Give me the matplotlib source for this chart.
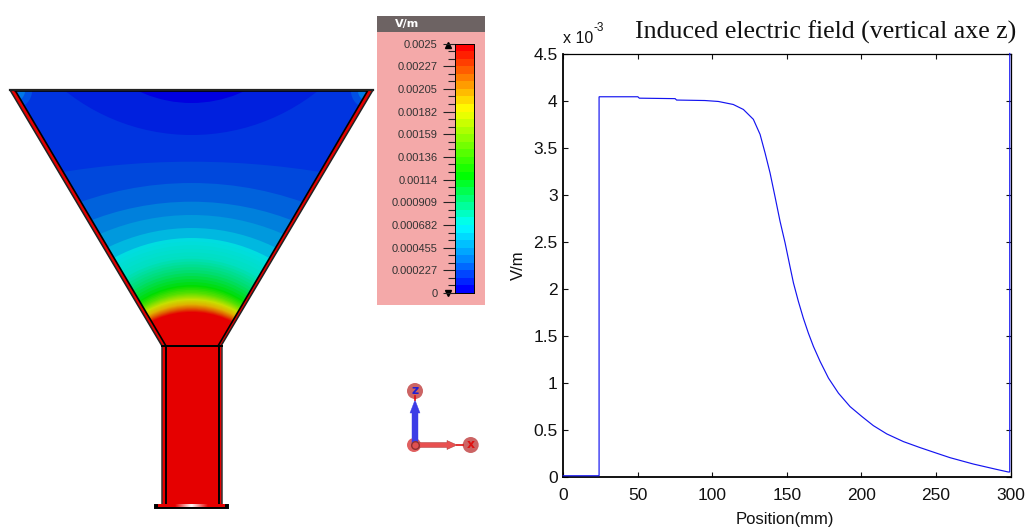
import numpy as np
import matplotlib
matplotlib.use("Agg")
import matplotlib.pyplot as plt
from matplotlib.patches import Polygon, Circle, Rectangle, FancyArrow
from matplotlib.colors import LinearSegmentedColormap, to_rgb

W, H = 1026, 529

# ---- line chart data
position_mm = [0, 24, 24, 50, 51, 75, 76, 95, 104, 114, 120.8, 127.5, 132, 135.4, 138.7, 142, 145.4,
               148.8, 152, 154.4, 157.7, 161, 164.4, 167.8, 172.3, 177.9, 184.6, 192.4, 200.3,
               208, 217, 228.2, 239.4, 250.6, 259.5, 275, 290, 298.5, 299.5, 299.5]
field_mV = [0.01, 0.01, 4.04, 4.04, 4.025, 4.02, 4.005, 4.0, 3.99, 3.958, 3.905, 3.80, 3.64, 3.44, 3.23, 2.98, 2.716,
            2.485, 2.24, 2.06, 1.864, 1.687, 1.527, 1.385, 1.225, 1.048, 0.888, 0.745, 0.64,
            0.543, 0.455, 0.373, 0.309, 0.249, 0.202, 0.135, 0.08, 0.05, 0.05, 4.5]
x_ticks = [0, 50, 100, 150, 200, 250, 300]
y_ticks = [0, 0.5, 1, 1.5, 2, 2.5, 3, 3.5, 4, 4.5]
y_ticklabels = ['0', '0.5', '1', '1.5', '2', '2.5', '3', '3.5', '4', '4.5']

# ---- colour legend data
legend_labels = ['0', '0.000227', '0.000455', '0.000682', '0.000909', '0.00114',
                 '0.00136', '0.00159', '0.00182', '0.00205', '0.00227', '0.0025']
legend_nodes = [0.0, 0.13, 0.264, 0.47, 0.744, 1.0]
legend_node_colors = ['#0000ff', '#0090ff', '#00ffff', '#00ff00', '#ffff00', '#ff0000']
n_bands = 33

# ---- funnel drawing (pixel geometry of the field map)
funnel_outline = [(10, 90), (373, 90), (221, 346), (162, 346)]
funnel_inner = [(15.5, 91), (367.5, 91), (218, 346), (166, 346)]
# stepped bands that bulge upward from the neck: top y, radius, colour
neck_tops = [161.7, 183, 201.7, 215, 228]
neck_radii = [810, 333, 280, 230, 190]
neck_colors = ['#0048dc', '#0062dc', '#0080dc', '#0099dd', '#00b8e0']
# smooth part of the field near the neck: top y, radius, colour
smooth_tops = [238, 256, 270, 285, 293, 299, 304, 308, 312]
smooth_radii = [161, 130, 108, 94, 93, 92, 91, 90, 90]
smooth_colors = ['#00dde0', '#00e0c0', '#00dd70', '#00dd00', '#60e000', '#c8e000', '#e0b000', '#e06000', '#e50000']
# bands that hang down from the open top: bottom y, radius, colour
top_bottoms = [135, 103]
top_radii = [203, 124]
top_colors = ['#0020de', '#0000e0']
base_color = '#0034e0'
red = '#e50000'
centre_x = 191.5

fig = plt.figure(figsize=(W / 100, H / 100), dpi=100, facecolor='white')


def px_axes(x0, y0, x1, y1):
    return fig.add_axes([x0 / W, 1 - y1 / H, (x1 - x0) / W, (y1 - y0) / H])


# ---- canvas in pixel coordinates
bg = fig.add_axes([0, 0, 1, 1])
bg.set_xlim(0, W)
bg.set_ylim(H, 0)
bg.axis('off')

clip = Polygon(funnel_inner, closed=True, transform=bg.transData, fc='none', ec='none')
bg.add_patch(Polygon(funnel_outline, closed=True, fc=red, ec='#222222', lw=1.1, joinstyle='miter', zorder=1))
bg.add_patch(Polygon(funnel_inner, closed=True, fc=base_color, ec='none', zorder=2))


def clipped_circle(cx, cy, r, c):
    p = Circle((cx, cy), r, fc=c, ec='none', zorder=3)
    bg.add_patch(p)
    p.set_clip_path(clip)


for top, r, c in zip(neck_tops, neck_radii, neck_colors):
    clipped_circle(centre_x, top + r, r, c)
rgb = np.array([to_rgb(c) for c in smooth_colors])
for t in np.arange(0, len(smooth_tops) - 1 + 1e-6, 0.2):
    idx = np.arange(len(smooth_tops))
    top = np.interp(t, idx, smooth_tops)
    r = np.interp(t, idx, smooth_radii)
    c = [np.interp(t, idx, rgb[:, k]) for k in range(3)]
    clipped_circle(centre_x, top + r, r, c)
for bot, r, c in zip(top_bottoms, top_radii, top_colors):
    clipped_circle(centre_x, bot - r, r, c)
for cx in (15, 368):
    clipped_circle(cx, 91, 17, '#0050e4')
    clipped_circle(cx, 91, 10, '#0078e8')
xs, ys = zip(*funnel_inner)
bg.plot(list(xs) + [xs[0]], list(ys) + [ys[0]], color='black', lw=1.2, zorder=4)
bg.plot([10, 373], [90.3, 90.3], color='#222222', lw=1.6, zorder=4)

# tube
bg.add_patch(Rectangle((161.5, 346), 60.5, 159, fc=red, ec='#333333', lw=1.1, zorder=2))
bg.add_patch(Rectangle((166, 346), 52.5, 159, fc=red, ec='black', lw=1.4, zorder=3))
bg.plot([162, 222], [346, 346], color='black', lw=1.4, zorder=4)
# base plate
bg.add_patch(Rectangle((155, 505), 73, 3, fc='black', ec='black', lw=1.4, zorder=4))
base_grad = LinearSegmentedColormap.from_list('b', [red, red, '#ffffff', red, red])
bg.imshow(np.linspace(0, 1, 64)[None, :], extent=(158, 225, 507.5, 505), cmap=base_grad, aspect='auto', zorder=5)
bg.set_xlim(0, W)
bg.set_ylim(H, 0)

# legend panel
bg.add_patch(Rectangle((377, 16), 108, 289, fc='#f4a9a9', ec='none', zorder=1))
bg.add_patch(Rectangle((377, 16), 108, 16, fc='#6d6363', ec='none', zorder=2))
bg.text(407, 24.5, 'V/m', color='white', fontsize=8, fontweight='bold', family='DejaVu Sans',
        ha='center', va='center', zorder=3)
bg.plot([448], [45], marker='^', ms=5, color='black', zorder=4)
bg.plot([448], [293], marker='v', ms=5, color='black', zorder=4)

# triad
bg.add_patch(Circle((415, 391), 8, fc='#cc6464', ec='none', zorder=2))
bg.add_patch(Circle((470.7, 445), 8, fc='#cc6464', ec='none', zorder=2))
bg.add_patch(Circle((414, 445), 7, fc='#e06060', ec='none', zorder=2))
bg.add_patch(FancyArrow(415, 445, 0, -45, width=6, head_width=10, head_length=13,
                        length_includes_head=True, fc='#3c3ce6', ec='#3c3ce6', lw=0.3, zorder=3))
bg.plot([415, 415], [400, 396], color='#e01010', lw=1.2, zorder=3)
bg.add_patch(FancyArrow(415, 445, 42, 0, width=5, head_width=9, head_length=10,
                        length_includes_head=True, fc='#e85050', ec='#a03030', lw=0.3, zorder=3))
bg.plot([457, 463], [445, 445], color='#e01010', lw=1.2, zorder=3)
bg.plot([414.5], [445], marker='o', ms=5.5, mfc='#e05050', mec='#903030', zorder=4)
bg.text(415, 391, 'z', color='#2020d0', fontsize=9, fontweight='bold', family='DejaVu Sans',
        ha='center', va='center', zorder=4)
bg.text(470.7, 445, 'x', color='#e01010', fontsize=9, fontweight='bold', family='DejaVu Sans',
        ha='center', va='center', zorder=4)

# ---- colour legend bar
cax = px_axes(455, 43.5, 474, 293)
cmap = LinearSegmentedColormap.from_list('jetlike', list(zip(legend_nodes, legend_node_colors)), N=n_bands)
cax.pcolormesh([0, 1], np.arange(n_bands + 1), np.arange(n_bands)[:, None], cmap=cmap, shading='flat')
cax.set_xticks([])
cax.set_yticks(np.arange(0, n_bands + 1, 3), legend_labels, fontsize=8, family='Liberation Sans', color='#333333')
cax.set_yticks(np.arange(0, n_bands + 1), minor=True)
cax.tick_params(axis='y', which='major', length=9, width=0.8, pad=3.5, color='#222222')
cax.tick_params(axis='y', which='minor', length=5, width=0.8, color='#222222')
cax.set_ylim(0, n_bands)
for s in cax.spines.values():
    s.set_linewidth(0.7)

# ---- line chart
ax = px_axes(563.3, 53.5, 1010.5, 476.7)
ax.plot(position_mm, field_mV, color='#1414f0', lw=0.85, solid_joinstyle='miter', clip_on=False, zorder=5)
ax.set_xlim(0, 300)
ax.set_ylim(0, 4.5)
ax.set_xticks(x_ticks, [str(v) for v in x_ticks])
ax.set_yticks(y_ticks, y_ticklabels)
ax.tick_params(axis='both', direction='in', length=3.6, width=0.8, top=True, right=True,
               labelsize=12.5, colors='#111111')
ax.tick_params(axis='x', pad=8)
ax.tick_params(axis='y', pad=4)
for lab in ax.get_xticklabels() + ax.get_yticklabels():
    lab.set_family('Liberation Sans')
for side in ('left', 'bottom'):
    ax.spines[side].set_linewidth(1.3)
for side in ('top', 'right'):
    ax.spines[side].set_linewidth(0.9)

bg.text(785, 519.5, 'Position(mm)', family='Liberation Sans', fontsize=12, ha='center', va='center', color='#111111')
bg.text(518, 265, 'V/m', family='Liberation Sans', fontsize=12, rotation=90, ha='center', va='center', color='#111111')
bg.text(563, 43, 'x 10', family='Liberation Sans', fontsize=11.5, ha='left', va='baseline', color='#111111')
bg.text(593, 31, '-3', family='Liberation Sans', fontsize=8.5, ha='left', va='baseline', color='#111111')
bg.text(635, 39, 'Induced electric field (vertical axe z)', family='Liberation Serif', fontsize=18.6,
        ha='left', va='baseline', color='#111111')

fig.savefig('out.png', dpi=100)
